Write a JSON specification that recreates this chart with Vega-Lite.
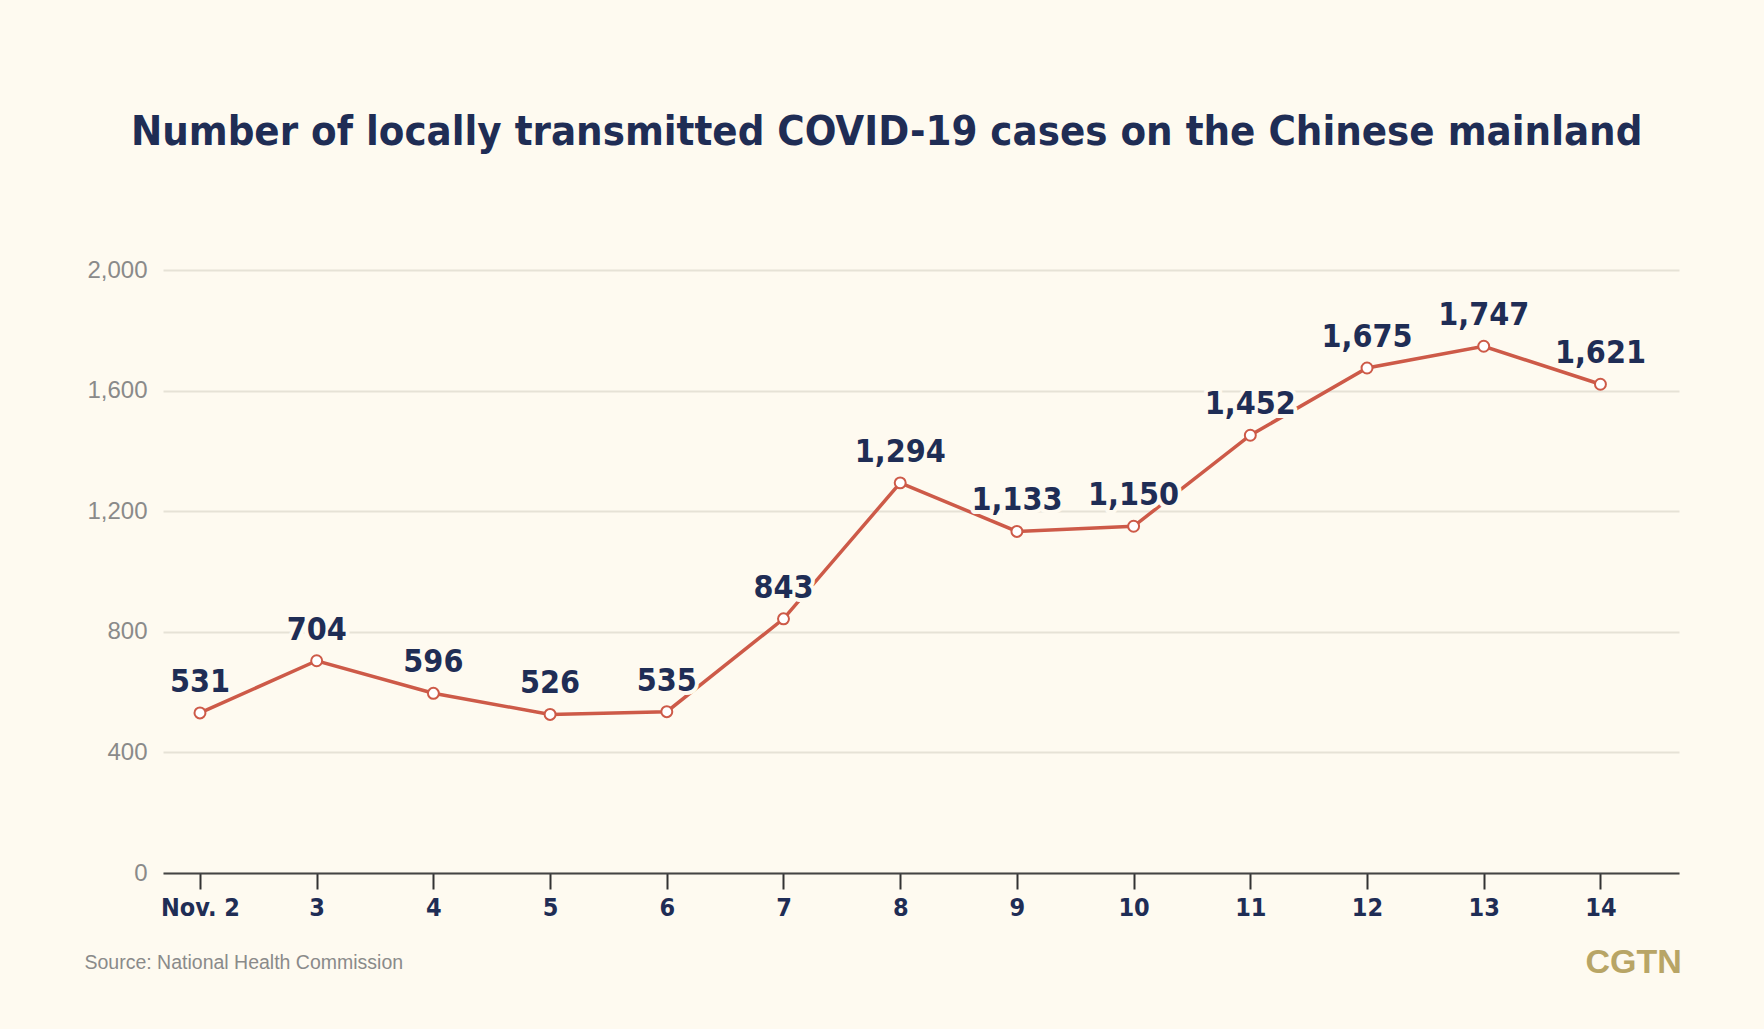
{
  "$schema": "https://vega.github.io/schema/vega-lite/v6.json",
  "width": 1516,
  "height": 603,
  "autosize": {"type": "none"},
  "padding": {"left": 163, "top": 270, "right": 85, "bottom": 156},
  "background": "#fefaf0",
  "title": {
    "text": "Number of locally transmitted COVID-19 cases on the Chinese mainland",
    "font": "DejaVu Sans Condensed",
    "fontWeight": "bold",
    "fontSize": 41.5,
    "color": "#1f2d55",
    "anchor": "middle",
    "frame": "bounds",
    "baseline": "alphabetic",
    "offset": 72,
    "dx": 4
  },
  "config": {
    "view": {"stroke": null},
    "font": "Liberation Sans"
  },
  "data": {
    "values": [
      {"day": "Nov. 2", "cases": 531},
      {"day": "3", "cases": 704},
      {"day": "4", "cases": 596},
      {"day": "5", "cases": 526},
      {"day": "6", "cases": 535},
      {"day": "7", "cases": 843},
      {"day": "8", "cases": 1294},
      {"day": "9", "cases": 1133},
      {"day": "10", "cases": 1150},
      {"day": "11", "cases": 1452},
      {"day": "12", "cases": 1675},
      {"day": "13", "cases": 1747},
      {"day": "14", "cases": 1621}
    ]
  },
  "encoding": {
    "x": {
      "field": "day",
      "type": "ordinal",
      "sort": null,
      "scale": {"type": "point", "padding": 0.495, "align": 0.32},
      "axis": {
        "labelAngle": 0,
        "labelFont": "DejaVu Sans Condensed",
        "labelFontWeight": "bold",
        "labelFontSize": 25,
        "labelColor": "#1f2d55",
        "labelPadding": 6,
        "tickSize": 16,
        "tickColor": "#333333",
        "tickWidth": 2,
        "domainColor": "#444444",
        "domainWidth": 2,
        "grid": false,
        "title": "Source: National Health Commission",
        "titleFont": "Liberation Sans",
        "titleFontWeight": "normal",
        "titleFontSize": 19.5,
        "titleColor": "#8a8a8a",
        "titleAnchor": "start",
        "titleAlign": "left",
        "titleBaseline": "middle",
        "titleX": -79,
        "titleY": 89
      }
    },
    "y": {
      "field": "cases",
      "type": "quantitative",
      "scale": {"domain": [0, 2000]},
      "axis": {
        "values": [0, 400, 800, 1200, 1600, 2000],
        "format": ",d",
        "domain": false,
        "ticks": false,
        "labelPadding": 16,
        "labelFont": "Liberation Sans",
        "labelFontSize": 24,
        "labelColor": "#8a8a8a",
        "gridColor": "#e6e2d6",
        "gridWidth": 2,
        "title": "CGTN",
        "titleAngle": 0,
        "titleFont": "Liberation Sans",
        "titleFontWeight": "bold",
        "titleFontSize": 34,
        "titleColor": "#b8a566",
        "titleAlign": "left",
        "titleBaseline": "middle",
        "titleX": 1422,
        "titleY": 692
      }
    }
  },
  "layer": [
    {
      "mark": {"type": "line", "color": "#cd5a48", "strokeWidth": 3.5}
    },
    {
      "mark": {"type": "point", "filled": true, "fill": "#ffffff", "stroke": "#cd5a48", "strokeWidth": 2, "size": 120, "opacity": 1}
    },
    {
      "mark": {"type": "text", "dy": -31, "font": "DejaVu Sans Condensed", "fontWeight": "bold", "fontSize": 32, "fill": "#fefaf0", "stroke": "#fefaf0", "strokeWidth": 8, "strokeJoin": "round"},
      "encoding": {"text": {"field": "cases", "type": "quantitative", "format": ",d"}}
    },
    {
      "mark": {"type": "text", "dy": -31, "font": "DejaVu Sans Condensed", "fontWeight": "bold", "fontSize": 32, "color": "#1f2d55"},
      "encoding": {"text": {"field": "cases", "type": "quantitative", "format": ",d"}}
    }
  ]
}
